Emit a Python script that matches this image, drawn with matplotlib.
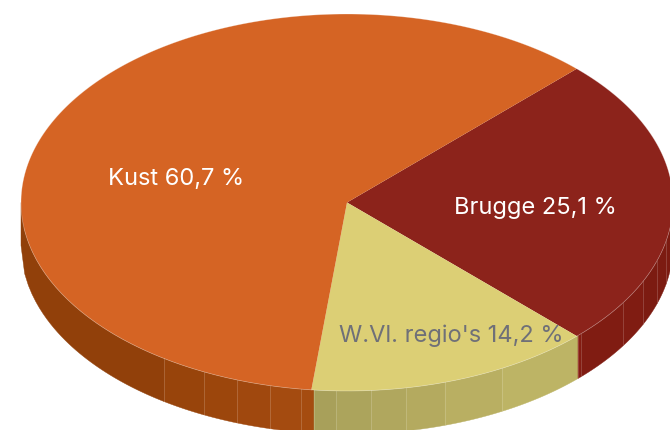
import numpy as np
import matplotlib
matplotlib.use("Agg")
import matplotlib.pyplot as plt
from matplotlib.patches import Polygon

labels = ["Brugge 25,1 %", "W.Vl. regio's 14,2 %", "Kust 60,7 %"]
values = [25.1, 14.2, 60.7]
top_colors = ["#8c231b", "#dccf75", "#d56424"]
label_colors = ["white", "#6f7078", "white"]
label_pos = [(535.5, 208), (451, 336), (176.5, 179)]

# rim facets, x pixel where each one starts, left to right
facet_x = [21, 164, 204, 237, 270, 301, 314, 336, 371, 406, 445, 502, 578, 581, 623, 643, 657, 666]
facet_colors = ["#91400a", "#98440b", "#9c460c", "#a0480e", "#a44b10", "#a54c10",
                "#a8a05a", "#aca45c", "#b0a75e", "#b4aa5f", "#b9af62", "#bdb465",
                "#861d12", "#801c12", "#801c12", "#7c1b11", "#7c1b11", "#7c1b11"]

CX, CY, RX, RY, DEPTH = 347, 203.5, 326, 188.5, 43

fig = plt.figure(figsize=(6.7, 4.31), dpi=100)
ax = fig.add_axes([0, 0, 1, 1])
ax.set_xlim(0, 670)
ax.set_ylim(431, 0)
ax.axis("off")

# rim first, so the top ellipse sits over it
ends = facet_x[1:] + [CX + RX]
for x0, x1, col in zip(facet_x, ends, facet_colors):
    xs = np.linspace(x0, x1, 40)
    ys = CY + RY * np.sqrt(np.clip(1 - ((xs - CX) / RX) ** 2, 0, 1))
    pts = np.r_[np.c_[xs, ys], np.c_[xs[::-1], ys[::-1] + DEPTH]]
    ax.add_patch(Polygon(pts, closed=True, fc=col, ec=col, lw=0.3))
    if x0 > 21:
        ax.plot([x0, x0], [ys[0], ys[0] + DEPTH], color="white", alpha=0.2, lw=0.6)

# top face, angle runs clockwise from the Brugge edge
start = 45.2
for val, col in zip(values, top_colors):
    t = np.radians(np.linspace(start, start - val * 3.6, 200))
    pts = np.r_[[[CX, CY]], np.c_[CX + RX * np.cos(t), CY - RY * np.sin(t)]]
    ax.add_patch(Polygon(pts, closed=True, fc=col, ec="none"))
    ax.plot(pts[1:, 0], pts[1:, 1], color="white", alpha=0.35, lw=0.5)
    start -= val * 3.6

for lab, pos, col in zip(labels, label_pos, label_colors):
    ax.text(pos[0], pos[1], lab, color=col, fontsize=17, family="Inter",
            ha="center", va="center")

fig.savefig("out.png", dpi=100)
